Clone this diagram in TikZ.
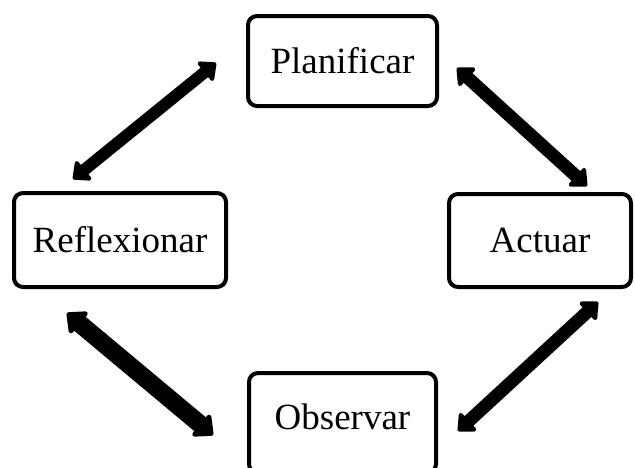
\documentclass[tikz,border=0pt]{standalone}
\usepackage{fontspec}
\setmainfont{Liberation Serif}
\usetikzlibrary{arrows.meta}
\begin{document}
\begin{tikzpicture}[x=1pt,y=-1pt,
  stagebox/.style={draw=black,line width=4pt,rounded corners=9pt,fill=white,inner sep=0pt,font=\fontsize{37}{40}\selectfont},
  blockarrow/.style={line width=#1,{Triangle[width=28pt,length=16pt,round]}-{Triangle[width=28pt,length=16pt,round]}}
]
\useasboundingbox (0,0) rectangle (635,467);
\node[stagebox,minimum width=189pt,minimum height=90pt] (P) at (342.5,61) {Planificar};
\node[stagebox,minimum width=212pt,minimum height=94pt] (R) at (120,240) {Reflexionar};
\node[stagebox,minimum width=182pt,minimum height=93pt] (A) at (540,240.5) {Actuar};
\node[stagebox,minimum width=187pt,minimum height=100pt,text depth=0pt] (O) at (342.5,423) {};
\node[font=\fontsize{37}{40}\selectfont] (Ot) at (342.5,417) {Observar};
\coordinate (pl1) at (73,179);
\coordinate (pl2) at (216,63);
\coordinate (pa1) at (457,68);
\coordinate (pa2) at (587,186);
\coordinate (ao1) at (598,302);
\coordinate (ao2) at (458,431);
\coordinate (or1) at (213,435);
\coordinate (or2) at (67,313);
\draw[blockarrow=12pt] (pl1) -- (pl2);
\draw[blockarrow=13pt] (pa1) -- (pa2);
\draw[blockarrow=13pt] (ao1) -- (ao2);
\draw[line width=18pt,{Triangle[width=32pt,length=18pt,round]}-{Triangle[width=32pt,length=18pt,round]}] (or1) -- (or2);
\end{tikzpicture}
\end{document}
